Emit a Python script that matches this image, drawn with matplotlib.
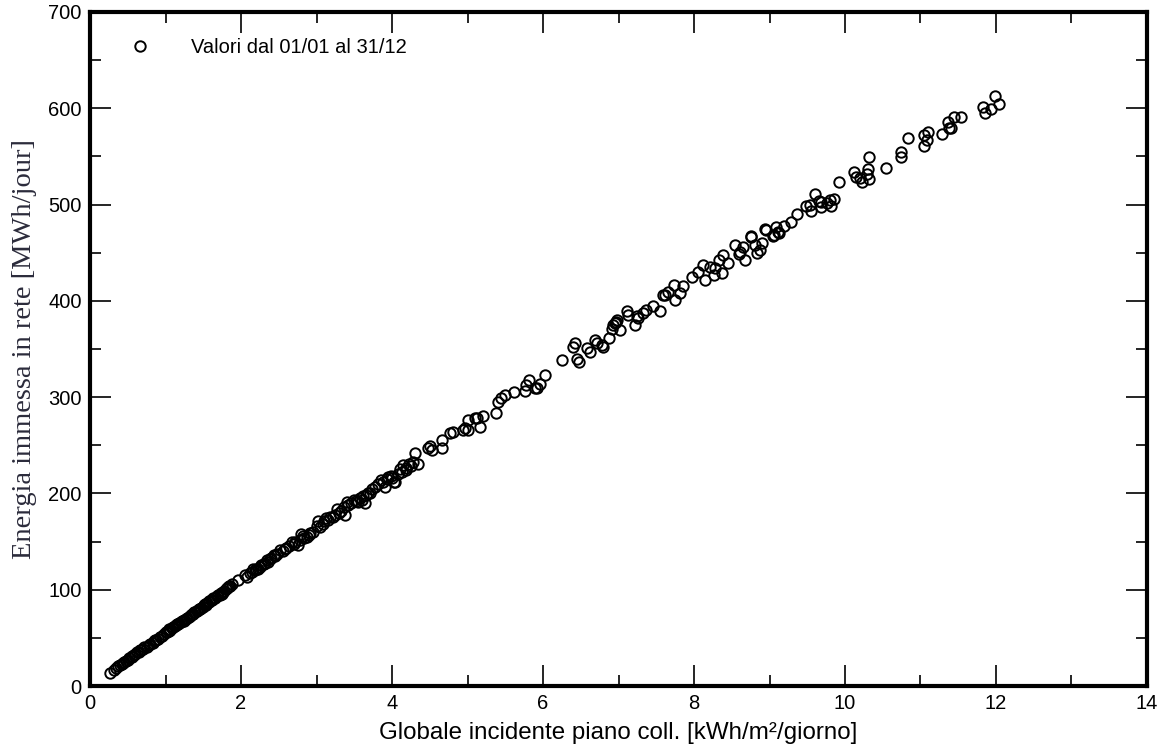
import matplotlib
matplotlib.use('Agg')
import matplotlib.pyplot as plt
from matplotlib.ticker import MultipleLocator

# winter days (low irradiation)
irr_low = [0.26, 0.32, 0.35, 0.37, 0.40, 0.42, 0.45, 0.47, 0.50, 0.52, 0.55, 0.58,
           0.60, 0.62, 0.65, 0.68, 0.70, 0.72, 0.75, 0.78, 0.80, 0.83, 0.85, 0.88,
           0.90, 0.92, 0.95, 0.98, 1.00, 1.02, 1.04, 1.06, 1.08, 1.10, 1.12, 1.14,
           1.16, 1.18, 1.20, 1.22, 1.25, 1.27, 1.29, 1.31, 1.33, 1.35, 1.37, 1.39,
           1.41, 1.43, 1.45, 1.47, 1.49, 1.51, 1.53, 1.55, 1.57, 1.60, 1.62, 1.65,
           1.68, 1.70, 1.72, 1.74, 1.76, 1.78, 1.80, 1.82, 1.84, 1.86, 1.88, 1.96,
           0.44, 0.56, 0.66, 0.86, 1.05, 1.15, 1.24, 1.34, 1.38, 1.44, 1.52, 1.58,
           1.63, 1.75, 1.83]
en_low = [13, 17, 19, 21, 22, 23, 25, 26, 27, 29, 30, 32,
          33, 35, 35, 37, 38, 40, 41, 43, 44, 45, 47, 48,
          49, 51, 52, 54, 56, 56, 57, 58, 60, 61, 62, 63,
          64, 65, 66, 67, 69, 70, 71, 72, 73, 75, 75, 77,
          78, 79, 80, 81, 82, 84, 84, 86, 87, 89, 89, 91,
          93, 94, 95, 97, 98, 99, 101, 102, 104, 104, 106, 110,
          24, 31, 37, 48, 59, 64, 68, 74, 77, 80, 85, 88,
          91, 96, 103]

# spring / autumn
irr_mid = [2.05, 2.08, 2.12, 2.15, 2.16, 2.18, 2.20, 2.22, 2.25, 2.27, 2.30, 2.32,
           2.34, 2.36, 2.38, 2.40, 2.43, 2.45, 2.48, 2.52, 2.55, 2.58, 2.60, 2.63,
           2.67, 2.70, 2.72, 2.76, 2.78, 2.80, 2.82, 2.84, 2.87, 2.90, 2.92, 2.95,
           3.00, 3.02, 3.05, 3.08, 3.10, 3.13, 3.15, 3.18, 3.22, 3.25, 3.27, 3.30,
           3.33, 3.36, 3.38, 3.40, 3.42, 3.45, 3.49, 3.52, 3.55, 3.58, 3.60, 3.62,
           3.64, 3.66, 3.68, 3.71, 3.73, 3.78, 3.82, 3.86, 3.88, 3.91, 3.93, 3.95,
           3.98, 4.00, 4.02, 4.04, 4.08, 4.10, 4.13, 4.15, 4.18, 4.19, 4.22, 4.25,
           4.28, 4.30, 4.35, 4.48, 4.50, 4.53, 4.66, 4.66, 4.77, 4.81, 4.94, 4.97,
           5.00, 5.00, 5.10, 5.12, 5.17, 5.21, 5.38, 5.41, 5.45, 5.50, 5.61, 5.76,
           5.78, 5.81, 5.89, 5.92, 5.96, 6.03]
en_mid = [115, 113, 117, 118, 122, 120, 121, 122, 124, 126, 127, 128,
          131, 129, 132, 133, 136, 135, 137, 141, 140, 142, 143, 145,
          150, 148, 150, 146, 152, 158, 156, 154, 155, 157, 159, 160,
          166, 171, 165, 168, 171, 174, 172, 176, 176, 178, 184, 180,
          182, 186, 178, 191, 188, 190, 193, 192, 191, 195, 193, 197,
          190, 198, 200, 200, 205, 207, 210, 214, 212, 207, 215, 217,
          218, 216, 212, 212, 220, 225, 222, 230, 226, 224, 231, 229,
          233, 242, 231, 247, 249, 245, 255, 247, 263, 264, 266, 268,
          276, 266, 278, 278, 269, 280, 284, 295, 299, 302, 305, 306,
          313, 318, 310, 309, 314, 323]

# summer days (high irradiation)
irr_high = [6.25, 6.40, 6.42, 6.45, 6.47, 6.58, 6.62, 6.69, 6.71, 6.78, 6.79, 6.88,
            6.91, 6.93, 6.95, 6.97, 6.98, 7.02, 7.11, 7.13, 7.22, 7.24, 7.26, 7.33,
            7.37, 7.46, 7.55, 7.59, 7.62, 7.66, 7.73, 7.75, 7.81, 7.86, 7.97, 8.05,
            8.12, 8.15, 8.21, 8.26, 8.28, 8.33, 8.37, 8.39, 8.45, 8.54, 8.59, 8.61,
            8.65, 8.68, 8.75, 8.76, 8.81, 8.83, 8.87, 8.90, 8.94, 8.95, 9.05, 9.06,
            9.09, 9.11, 9.12, 9.19, 9.29, 9.37, 9.49, 9.54, 9.55, 9.60, 9.65, 9.68,
            9.68, 9.76, 9.80, 9.81, 9.85, 9.92, 10.12, 10.15, 10.20, 10.23, 10.29,
            10.30, 10.32, 10.32, 10.54, 10.74, 10.74, 10.84, 11.04, 11.04, 11.08,
            11.10, 11.28, 11.36, 11.38, 11.41, 11.44, 11.53, 11.83, 11.85, 11.93,
            11.99, 12.04]
en_high = [339, 352, 356, 340, 337, 351, 347, 359, 356, 354, 352, 361,
           371, 375, 377, 378, 380, 370, 389, 385, 375, 384, 382, 387,
           390, 395, 389, 406, 406, 409, 416, 401, 408, 415, 425, 430,
           437, 422, 435, 427, 434, 442, 429, 448, 439, 458, 449, 451,
           456, 442, 466, 467, 458, 450, 453, 460, 475, 474, 467, 468,
           477, 472, 470, 478, 482, 490, 499, 500, 493, 511, 504, 503,
           497, 502, 505, 499, 506, 523, 534, 529, 528, 523, 532,
           537, 549, 527, 538, 555, 549, 569, 572, 561, 567,
           575, 573, 586, 580, 579, 591, 591, 601, 595, 599,
           613, 604]

irr = irr_low + irr_mid + irr_high
energy = en_low + en_mid + en_high

plt.rcParams['font.family'] = ['Liberation Sans', 'DejaVu Sans']

fig = plt.figure(figsize=(11.68, 7.49), dpi=100)
ax = fig.add_axes([0.0771, 0.0841, 0.9049, 0.8999])

ax.plot(irr, energy, linestyle='none', marker='o', markersize=7.5,
        markerfacecolor='none', markeredgecolor='black', markeredgewidth=1.4,
        label='Valori dal 01/01 al 31/12')

ax.set_xlim(0, 14)
ax.set_ylim(0, 700)
ax.xaxis.set_major_locator(MultipleLocator(2))
ax.xaxis.set_minor_locator(MultipleLocator(1))
ax.yaxis.set_major_locator(MultipleLocator(100))
ax.yaxis.set_minor_locator(MultipleLocator(50))
ax.tick_params(which='both', direction='in', top=True, right=True, labelsize=14.5, width=1.2)
ax.tick_params(which='major', length=15, pad=6)
ax.tick_params(which='minor', length=8)
for s in ax.spines.values():
    s.set_linewidth(3)

ax.set_xlabel('Globale incidente piano coll. [kWh/m²/giorno]', fontsize=17.4, labelpad=6)
ax.set_ylabel('Energia immessa in rete [MWh/jour]', fontsize=20.5,
              family='Liberation Serif', color='#2b2b3b', labelpad=8)

ax.legend(loc='upper left', bbox_to_anchor=(0.011, 0.988), frameon=False,
          fontsize=14.5, handletextpad=1.55, handlelength=2)

fig.savefig('out.png', dpi=100)
